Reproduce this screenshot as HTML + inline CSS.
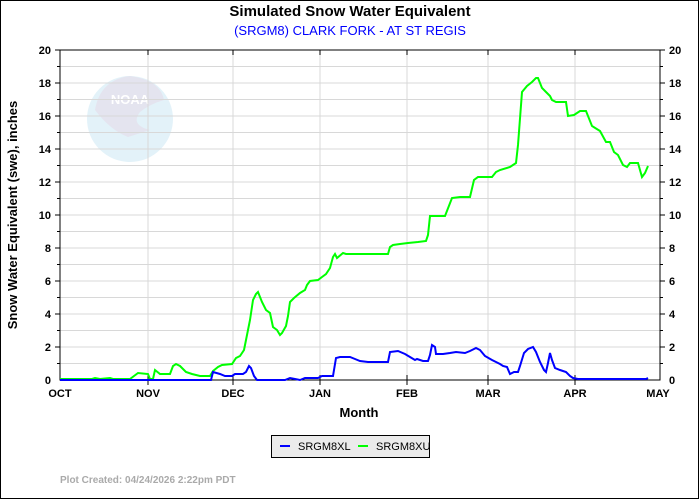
<!DOCTYPE html>
<html><head><meta charset="utf-8"><style>
body{margin:0;background:#fff}
svg{display:block;font-family:"Liberation Sans",Arial,sans-serif}
</style></head><body>
<svg width="700" height="500" viewBox="0 0 700 500" xmlns="http://www.w3.org/2000/svg">
<rect x="0.5" y="0.5" width="698" height="498" fill="#fff" stroke="#000"/>
<text x="350" y="16" text-anchor="middle" font-size="15" font-weight="bold">Simulated Snow Water Equivalent</text>
<text x="350" y="35" text-anchor="middle" font-size="13" fill="#0000ff">(SRGM8) CLARK FORK - AT ST REGIS</text>
<!-- NOAA logo -->
<circle cx="130" cy="119" r="43" fill="#e3f2f9"/>
<path d="M95,110 Q100,80 130,76 Q160,80 164,100 Q150,104 140,112 Q130,125 150,130 L128,137 Q110,130 95,110 Z" fill="#e4e4ef"/>
<text x="130" y="104" text-anchor="middle" font-size="13" font-weight="bold" fill="#fff">NOAA</text>
<g stroke="#d8d8d8" stroke-width="1">
<line x1="60" y1="66.5" x2="660" y2="66.5"/><line x1="60" y1="83" x2="660" y2="83"/><line x1="60" y1="99.5" x2="660" y2="99.5"/><line x1="60" y1="116" x2="660" y2="116"/><line x1="60" y1="132.5" x2="660" y2="132.5"/><line x1="60" y1="149" x2="660" y2="149"/><line x1="60" y1="165.5" x2="660" y2="165.5"/><line x1="60" y1="182" x2="660" y2="182"/><line x1="60" y1="198.5" x2="660" y2="198.5"/><line x1="60" y1="215" x2="660" y2="215"/><line x1="60" y1="231.5" x2="660" y2="231.5"/><line x1="60" y1="248" x2="660" y2="248"/><line x1="60" y1="264.5" x2="660" y2="264.5"/><line x1="60" y1="281" x2="660" y2="281"/><line x1="60" y1="297.5" x2="660" y2="297.5"/><line x1="60" y1="314" x2="660" y2="314"/><line x1="60" y1="330.5" x2="660" y2="330.5"/><line x1="60" y1="347" x2="660" y2="347"/><line x1="60" y1="363.5" x2="660" y2="363.5"/>
<line x1="148" y1="50" x2="148" y2="380"/><line x1="233" y1="50" x2="233" y2="380"/><line x1="320" y1="50" x2="320" y2="380"/><line x1="407" y1="50" x2="407" y2="380"/><line x1="488" y1="50" x2="488" y2="380"/><line x1="575" y1="50" x2="575" y2="380"/>
</g>
<rect x="60" y="50" width="600" height="330" fill="none" stroke="#000"/>
<g stroke="#000">
<line x1="55" y1="50" x2="60" y2="50"/><line x1="57" y1="66.5" x2="60" y2="66.5"/><line x1="55" y1="83" x2="60" y2="83"/><line x1="57" y1="99.5" x2="60" y2="99.5"/><line x1="55" y1="116" x2="60" y2="116"/><line x1="57" y1="132.5" x2="60" y2="132.5"/><line x1="55" y1="149" x2="60" y2="149"/><line x1="57" y1="165.5" x2="60" y2="165.5"/><line x1="55" y1="182" x2="60" y2="182"/><line x1="57" y1="198.5" x2="60" y2="198.5"/><line x1="55" y1="215" x2="60" y2="215"/><line x1="57" y1="231.5" x2="60" y2="231.5"/><line x1="55" y1="248" x2="60" y2="248"/><line x1="57" y1="264.5" x2="60" y2="264.5"/><line x1="55" y1="281" x2="60" y2="281"/><line x1="57" y1="297.5" x2="60" y2="297.5"/><line x1="55" y1="314" x2="60" y2="314"/><line x1="57" y1="330.5" x2="60" y2="330.5"/><line x1="55" y1="347" x2="60" y2="347"/><line x1="57" y1="363.5" x2="60" y2="363.5"/>
<line x1="660" y1="50" x2="665" y2="50"/><line x1="660" y1="66.5" x2="663" y2="66.5"/><line x1="660" y1="83" x2="665" y2="83"/><line x1="660" y1="99.5" x2="663" y2="99.5"/><line x1="660" y1="116" x2="665" y2="116"/><line x1="660" y1="132.5" x2="663" y2="132.5"/><line x1="660" y1="149" x2="665" y2="149"/><line x1="660" y1="165.5" x2="663" y2="165.5"/><line x1="660" y1="182" x2="665" y2="182"/><line x1="660" y1="198.5" x2="663" y2="198.5"/><line x1="660" y1="215" x2="665" y2="215"/><line x1="660" y1="231.5" x2="663" y2="231.5"/><line x1="660" y1="248" x2="665" y2="248"/><line x1="660" y1="264.5" x2="663" y2="264.5"/><line x1="660" y1="281" x2="665" y2="281"/><line x1="660" y1="297.5" x2="663" y2="297.5"/><line x1="660" y1="314" x2="665" y2="314"/><line x1="660" y1="330.5" x2="663" y2="330.5"/><line x1="660" y1="347" x2="665" y2="347"/><line x1="660" y1="363.5" x2="663" y2="363.5"/>
<line x1="148" y1="375" x2="148" y2="385"/><line x1="233" y1="375" x2="233" y2="385"/><line x1="320" y1="375" x2="320" y2="385"/><line x1="407" y1="375" x2="407" y2="385"/><line x1="488" y1="375" x2="488" y2="385"/><line x1="575" y1="375" x2="575" y2="385"/>
<line x1="148" y1="50" x2="148" y2="55"/><line x1="233" y1="50" x2="233" y2="55"/><line x1="320" y1="50" x2="320" y2="55"/><line x1="407" y1="50" x2="407" y2="55"/><line x1="488" y1="50" x2="488" y2="55"/><line x1="575" y1="50" x2="575" y2="55"/>
</g>
<g font-size="11" font-weight="bold" text-anchor="end">
<text x="51" y="54">20</text><text x="51" y="87">18</text><text x="51" y="120">16</text><text x="51" y="153">14</text><text x="51" y="186">12</text><text x="51" y="219">10</text><text x="51" y="252">8</text><text x="51" y="285">6</text><text x="51" y="318">4</text><text x="51" y="351">2</text><text x="51" y="384">0</text>
</g>
<g font-size="11" font-weight="bold" text-anchor="start">
<text x="669" y="54">20</text><text x="669" y="87">18</text><text x="669" y="120">16</text><text x="669" y="153">14</text><text x="669" y="186">12</text><text x="669" y="219">10</text><text x="669" y="252">8</text><text x="669" y="285">6</text><text x="669" y="318">4</text><text x="669" y="351">2</text><text x="669" y="384">0</text>
</g>
<g font-size="11" font-weight="bold" text-anchor="middle">
<text x="60" y="397">OCT</text><text x="148" y="397">NOV</text><text x="233" y="397">DEC</text><text x="320" y="397">JAN</text><text x="407" y="397">FEB</text><text x="488" y="397">MAR</text><text x="575" y="397">APR</text><text x="658" y="397">MAY</text>
</g>
<text x="359" y="417" text-anchor="middle" font-size="13" font-weight="bold">Month</text>
<text transform="translate(17,215) rotate(-90)" text-anchor="middle" font-size="13" font-weight="bold">Snow Water Equivalent (swe),  inches</text>
<polyline fill="none" stroke="#00ff00" stroke-width="2" points="60,379 92,379 95,378 100,379 110,378 113,379 130,379 138,373 148,374 150,379 153,379 155,370 160,374 170,374 173,366 176,364 180,366 186,372 192,374 200,376 210,376 213,371 218,367 222,365 232,364 236,358 240,356 244,350 246,340 250,320 253,300 256,294 258,292 262,302 266,310 270,313 273,327 277,330 280,335 282,333 286,326 288,316 290,302 294,298 300,293 305,290 307,285 310,281 318,280 322,277 326,274 330,268 333,257 335,254 337,258 343,253 346,254 388,254 390,247 393,245 400,244 408,243 418,242 426,241 428,235 430,216 445,216 452,198 460,197 470,197 474,180 478,177 492,177 496,172 500,170 510,167 516,163 518,145 522,92 527,86 532,82 536,78 538,78 542,88 546,92 550,96 552,100 556,102 566,102 568,116 574,115 580,111 586,111 592,126 600,131 606,142 610,142 614,152 618,155 623,165 627,167 630,163 638,163 642,177 645,173 648,166"/>
<polyline fill="none" stroke="#0000ff" stroke-width="2" points="60,380 211,380 213,372 220,374 225,376 232,376 235,374 243,374 246,372 249,366 251,368 254,376 257,380 285,380 290,378 295,379 300,380 305,378 318,378 322,376 326,376 333,376 336,358 340,357 350,357 355,359 360,361 368,362 370,362 388,362 390,352 398,351 405,354 410,357 415,360 417,359 423,361 428,361 430,355 432,345 435,347 436,354 443,354 450,353 456,352 465,353 470,351 476,348 480,350 485,356 492,360 496,362 500,364 503,366 507,367 510,374 514,372 518,372 520,366 524,353 528,349 533,347 536,352 540,362 544,370 546,372 548,363 550,353 552,360 555,368 560,370 566,372 570,376 573,378 578,379 646,379 648,378"/>
<rect x="271.5" y="435.5" width="158" height="22" fill="#ebebeb" stroke="#000"/>
<line x1="280" y1="446" x2="290" y2="446" stroke="#0000ff" stroke-width="2"/>
<text x="298" y="450" font-size="11">SRGM8XL</text>
<line x1="358" y1="446" x2="368" y2="446" stroke="#00ff00" stroke-width="2"/>
<text x="376" y="450" font-size="11">SRGM8XU</text>
<text x="60" y="483" font-size="10" font-weight="bold" fill="#aaa">Plot Created: 04/24/2026 2:22pm PDT</text>
</svg>
</body></html>
